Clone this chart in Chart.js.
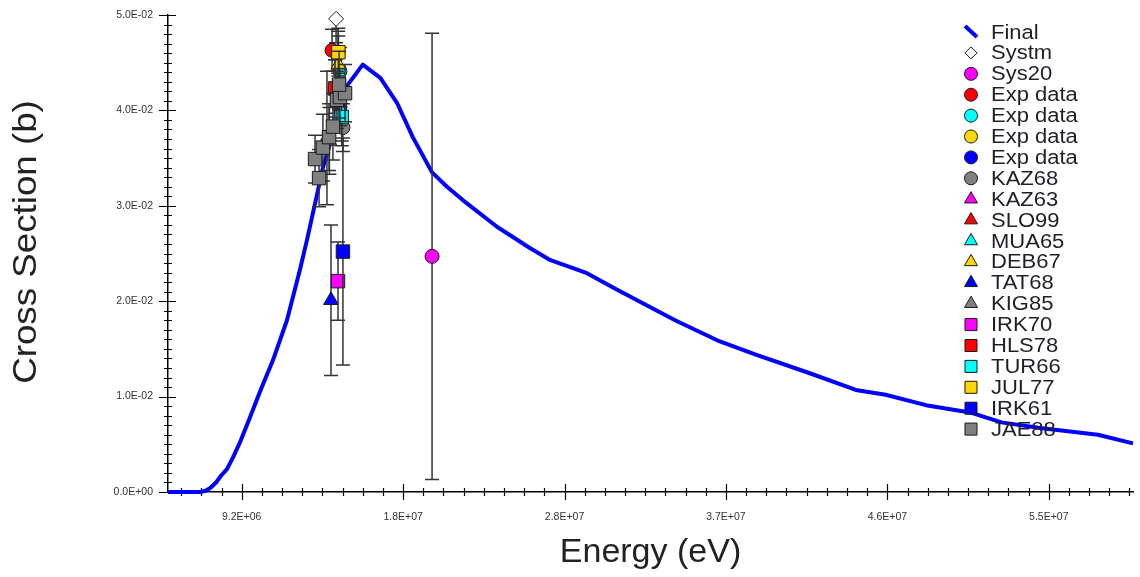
<!DOCTYPE html>
<html>
<head>
<meta charset="utf-8">
<script src="https://cdn.jsdelivr.net/npm/chart.js@4.4.1/dist/chart.umd.min.js"></script>
<style>
  html, body { margin: 0; padding: 0; background: #fff; }
  canvas { display: block; }
</style>
</head>
<body>
<canvas id="chart" width="1140" height="577"></canvas>
<script>
// evaluated curve "Final" (energy in eV, cross section in b)
const finalEnergy = [5.0e6, 6.8e6, 7.11e6, 7.39e6, 7.74e6, 8.02e6, 8.36e6, 8.70e6, 9.10e6, 9.67e6, 10.24e6,
  10.98e6, 11.78e6, 12.52e6, 12.92e6, 13.83e6, 14.5e6, 15.25e6, 16.1e6, 17.1e6, 18.05e6, 18.95e6, 20.05e6,
  20.9e6, 21.8e6, 23.75e6, 25.6e6, 26.8e6, 28.8e6, 30.6e6, 33.9e6, 36.3e6, 38.5e6, 41.5e6, 44.2e6,
  45.9e6, 48.2e6, 50.8e6, 52.5e6, 54.7e6, 58.0e6, 60.0e6];
const finalXs = [0, 0, 0.0001, 0.0004, 0.0010, 0.0017, 0.0024, 0.0036, 0.0052, 0.0078, 0.0105,
  0.0138, 0.0180, 0.0233, 0.0264, 0.0340, 0.0382, 0.0427, 0.0448, 0.0434, 0.0408, 0.0372, 0.0335,
  0.0320, 0.0306, 0.0278, 0.0256, 0.0243, 0.0230, 0.0212, 0.0180, 0.0159, 0.0144, 0.0125, 0.0107,
  0.0102, 0.0091, 0.0083, 0.0073, 0.0067, 0.0060, 0.0051];

// measured points: [energy (eV), cross section (b), uncertainty (b)]
const systmPts = [[14.58e6, 0.0496, 0.0025]];
const sys20Pts = [[20.05e6, 0.0247, 0.0234]];
const expRedPts = [[14.35e6, 0.0463, 0.0022]];
const expCyanPts = [[14.80e6, 0.0441, 0.0025]];
const expGoldPts = [[14.70e6, 0.0461, 0.0022]];
const expBluePts = [[14.80e6, 0.0403, 0.0025]];
const kaz68Pts = [[14.97e6, 0.0382, 0.0025]];
const kaz63Pts = [[14.06e6, 0.0371, 0.0070]];
const slo99Pts = [[14.55e6, 0.0425, 0.0028]];
const mua65Pts = [[14.90e6, 0.0398, 0.0030]];
const deb67Pts = [[14.71e6, 0.0448, 0.0030]];
const tat68Pts = [[14.29e6, 0.0201, 0.0079]];
const kig85Pts = [[14.20e6, 0.0368, 0.0035]];
const irk70Pts = [[14.69e6, 0.0221, 0.0041]];
const hls78Pts = [[14.52e6, 0.0423, 0.0030]];
const tur66Pts = [[14.90e6, 0.0393, 0.0030]];
const jul77Pts = [[14.71e6, 0.0461, 0.0025]];
const irk61Pts = [[14.97e6, 0.0252, 0.0119]];
const jae88Pts = [[13.38e6, 0.0349, 0.0025], [13.61e6, 0.0329, 0.0030], [13.83e6, 0.0361, 0.0035],
  [14.18e6, 0.0372, 0.0035], [14.40e6, 0.0383, 0.0035], [14.63e6, 0.0411, 0.0030],
  [14.80e6, 0.0414, 0.0030], [15.09e6, 0.0418, 0.0030], [14.75e6, 0.0427, 0.0035]];

// tick labels
const xMajorTicks = [9.2e6, 18.4e6, 27.6e6, 36.8e6, 46.0e6, 55.2e6];
const yMajorTicks = [0, 0.01, 0.02, 0.03, 0.04, 0.05];

// series: label, points, colour, marker
const MAGENTA = '#ff00ff', RED = '#ff0000', CYAN = '#00ffff', GOLD = '#ffd700', BLUE = '#0000ff', GRAY = '#808080';
const series = [
  ['Systm', systmPts, '#ffffff', 'rectRot'],
  ['Sys20', sys20Pts, MAGENTA, 'circle'],
  ['Exp data', expRedPts, RED, 'circle'],
  ['Exp data', expCyanPts, CYAN, 'circle'],
  ['Exp data', expGoldPts, GOLD, 'circle'],
  ['Exp data', expBluePts, BLUE, 'circle'],
  ['KAZ68', kaz68Pts, GRAY, 'circle'],
  ['KAZ63', kaz63Pts, MAGENTA, 'triangle'],
  ['SLO99', slo99Pts, RED, 'triangle'],
  ['MUA65', mua65Pts, CYAN, 'triangle'],
  ['DEB67', deb67Pts, GOLD, 'triangle'],
  ['TAT68', tat68Pts, BLUE, 'triangle'],
  ['KIG85', kig85Pts, GRAY, 'triangle'],
  ['IRK70', irk70Pts, MAGENTA, 'rect'],
  ['HLS78', hls78Pts, RED, 'rect'],
  ['TUR66', tur66Pts, CYAN, 'rect'],
  ['JUL77', jul77Pts, GOLD, 'rect'],
  ['IRK61', irk61Pts, BLUE, 'rect'],
  ['JAE88', jae88Pts, GRAY, 'rect']
];
const markerRadius = { circle: 7, triangle: 8.5, rect: 9.5, rectRot: 7.5 };
const legendRadius = { circle: 6.5, triangle: 7.5, rect: 8.5, rectRot: 6 };

const FONT = '"Liberation Sans", Arial, sans-serif';

function sci(v) {
  if (Math.abs(v) < 1e-12) return '0.0E+00';
  let e = Math.floor(Math.log10(Math.abs(v)) + 1e-9);
  let m = (v / Math.pow(10, e)).toFixed(1);
  if (m === '10.0') { m = '1.0'; e += 1; }
  return m + 'E' + (e < 0 ? '-' : '+') + String(Math.abs(e)).padStart(2, '0');
}

// text a bit wider than the font, as in the original
function wideText(ctx, text, x, y, sx) {
  ctx.save();
  ctx.translate(x, y);
  ctx.scale(sx, 1);
  ctx.fillText(text, 0, 0);
  ctx.restore();
}

// the scales must not push the plot area inwards
function noScalePadding(s) {
  s.paddingTop = 0;
  s.paddingBottom = 0;
  s.paddingLeft = 0;
  s.paddingRight = 0;
}

const datasets = [{
  label: 'Final',
  data: finalEnergy.map((e, i) => ({ x: e, y: finalXs[i] })),
  showLine: true,
  borderColor: '#0000ff',
  borderWidth: 4,
  borderJoinStyle: 'round',
  pointRadius: 0,
  tension: 0,
  clip: 4,
  order: 100
}];
series.forEach((s, i) => {
  datasets.push({
    label: s[0],
    data: s[1].map(p => ({ x: p[0], y: p[1], err: p[2] })),
    showLine: false,
    backgroundColor: s[2],
    borderColor: '#1a1a1a',
    borderWidth: 1,
    pointStyle: s[3],
    pointRadius: markerRadius[s[3]],
    clip: false,
    order: 99 - i
  });
});

// error bars are drawn just before each data set's markers
const errorBars = {
  id: 'errorBars',
  beforeDatasetDraw(chart, args) {
    const ds = chart.data.datasets[args.index];
    if (ds.showLine) return;
    const { ctx, chartArea: a, scales: { x, y } } = chart;
    ctx.save();
    ctx.beginPath();
    ctx.rect(a.left, a.top - 2, a.right - a.left, a.bottom - a.top + 4);
    ctx.clip();
    ctx.strokeStyle = '#333';
    ctx.lineWidth = 1.5;
    ctx.beginPath();
    ds.data.forEach(p => {
      const px = x.getPixelForValue(p.x);
      const top = y.getPixelForValue(p.y + p.err);
      const bot = y.getPixelForValue(p.y - p.err);
      ctx.moveTo(px, top); ctx.lineTo(px, bot);
      ctx.moveTo(px - 7, top); ctx.lineTo(px + 7, top);
      ctx.moveTo(px - 7, bot); ctx.lineTo(px + 7, bot);
    });
    ctx.stroke();
    ctx.restore();
  }
};

// major and minor tick marks crossing the axes
const axisTicks = {
  id: 'axisTicks',
  beforeDatasetsDraw(chart) {
    const { ctx, chartArea: a, scales: { x, y } } = chart;
    ctx.save();
    ctx.strokeStyle = '#000';
    ctx.lineWidth = 1.2;
    ctx.beginPath();
    const xMinor = xMajorTicks[0] / 8;
    for (let k = 1; k * xMinor <= x.max + 1; k++) {
      const v = k * xMinor;
      if (v < x.min) continue;
      const px = Math.round(x.getPixelForValue(v)) + 0.5;
      const big = k % 8 === 0;
      ctx.moveTo(px, a.bottom - (big ? 8 : 4));
      ctx.lineTo(px, a.bottom + (big ? 8 : 4));
    }
    const yMinor = 0.001;
    for (let k = 0; k * yMinor <= y.max + 1e-9; k++) {
      const py = Math.round(y.getPixelForValue(k * yMinor)) + 0.5;
      const big = k % 10 === 0;
      ctx.moveTo(a.left - (big ? 9 : 4), py);
      ctx.lineTo(a.left + (big ? 8 : 4), py);
    }
    ctx.stroke();
    ctx.restore();
  }
};

// y title and legend drawn over the canvas
const overlay = {
  id: 'overlay',
  afterDraw(chart) {
    const ctx = chart.ctx;
    ctx.save();
    ctx.fillStyle = '#222';
    ctx.font = '34px ' + FONT;
    ctx.textAlign = 'center';
    ctx.textBaseline = 'middle';
    ctx.translate(27, 242);
    ctx.rotate(-Math.PI / 2);
    wideText(ctx, 'Cross Section (b)', 0, 0, 1.08);
    ctx.restore();

    const sx = 971, tx = 991, top = 32, step = 20.9;
    ctx.save();
    ctx.font = '20px ' + FONT;
    ctx.textBaseline = 'middle';
    chart.data.datasets.forEach((ds, i) => {
      const cy = top + i * step;
      if (ds.showLine) {
        ctx.strokeStyle = ds.borderColor;
        ctx.lineWidth = 4;
        ctx.beginPath();
        ctx.moveTo(sx - 6, cy - 6);
        ctx.lineTo(sx + 6, cy + 5);
        ctx.stroke();
      } else {
        ctx.fillStyle = ds.backgroundColor;
        ctx.strokeStyle = ds.borderColor;
        ctx.lineWidth = 1;
        Chart.helpers.drawPoint(ctx, {
          pointStyle: ds.pointStyle,
          radius: legendRadius[ds.pointStyle],
          rotation: 0,
          borderWidth: 1
        }, sx, cy);
      }
      ctx.fillStyle = '#1f1f2a';
      wideText(ctx, ds.label, tx, cy + 1, 1.1);
    });
    ctx.restore();
  }
};

new Chart(document.getElementById('chart'), {
  type: 'scatter',
  data: { datasets: datasets },
  options: {
    responsive: false,
    animation: false,
    events: [],
    layout: { autoPadding: false, padding: { top: 15, right: 7, left: 0, bottom: 0 } },
    plugins: { legend: { display: false }, tooltip: { enabled: false } },
    scales: {
      x: {
        type: 'linear',
        min: 5e6,
        max: 6e7,
        afterBuildTicks: s => { s.ticks = xMajorTicks.map(v => ({ value: v })); },
        afterFit: s => { s.height = 85; noScalePadding(s); },
        grid: { display: false, drawTicks: false },
        border: { display: true, color: '#000', width: 1.5 },
        ticks: {
          padding: 19,
          color: '#333',
          font: { family: FONT, size: 10.5 },
          maxRotation: 0,
          autoSkip: false,
          callback: v => sci(v)
        },
        title: {
          display: true,
          text: 'Energy (eV)',
          color: '#222',
          font: { family: FONT, size: 34, lineHeight: 1 },
          padding: { top: 0, bottom: 7 }
        }
      },
      y: {
        type: 'linear',
        min: 0,
        max: 0.05,
        afterBuildTicks: s => { s.ticks = yMajorTicks.map(v => ({ value: v })); },
        afterFit: s => { s.width = 168; noScalePadding(s); },
        grid: { display: false, drawTicks: false },
        border: { display: true, color: '#000', width: 1.5 },
        ticks: {
          padding: 15,
          color: '#333',
          font: { family: FONT, size: 10.5 },
          autoSkip: false,
          callback: v => sci(v)
        },
        title: { display: false }
      }
    }
  },
  plugins: [axisTicks, errorBars, overlay]
});
</script>
</body>
</html>
